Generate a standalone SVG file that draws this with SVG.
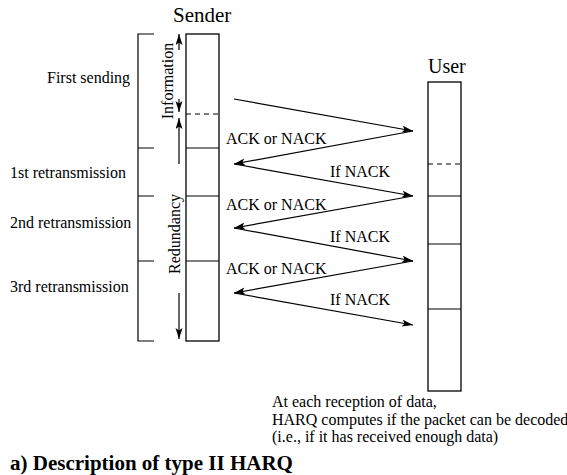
<svg xmlns="http://www.w3.org/2000/svg" width="567" height="475" viewBox="0 0 567 475">
<defs>
<style>
text{font-family:"Liberation Serif","Times New Roman",serif;fill:#000}
.lbl{font-size:16px}
.hd{font-size:21px}
.ttl{font-size:21px;font-weight:bold}
.box{fill:none;stroke:#000;stroke-width:1.3}
.ln{stroke:#000;stroke-width:1.2;fill:none}
.dash{stroke:#000;stroke-width:1.2;stroke-dasharray:5,4}
.arr{stroke:#000;stroke-width:1.2;fill:none;marker-end:url(#ah)}
</style>
<marker id="ah" markerUnits="userSpaceOnUse" markerWidth="14" markerHeight="10" refX="11" refY="3.5" orient="auto">
<path d="M0,0 L11,3.5 L0,7 L2.5,3.5 z" fill="#000"/>
</marker>
</defs>
<rect width="567" height="475" fill="#fff"/>

<g id="sender">
<text class="hd" x="173" y="22">Sender</text>
<rect class="box" x="186" y="34" width="33" height="307"/>
<line class="dash" x1="186" y1="114" x2="219" y2="114"/>
<line class="ln" x1="186" y1="148" x2="219" y2="148"/>
<line class="ln" x1="186" y1="196" x2="219" y2="196"/>
<line class="ln" x1="186" y1="261" x2="219" y2="261"/>
</g>

<g id="bracket">
<path class="ln" d="M154,34 H138 V341 H154 M138,148 H154 M138,196 H154 M138,261 H154"/>
<text class="lbl" x="47" y="83">First sending</text>
<text class="lbl" x="10" y="178">1st retransmission</text>
<text class="lbl" x="10" y="228">2nd retransmission</text>
<text class="lbl" x="10" y="292">3rd retransmission</text>
</g>

<g id="information">
<line class="arr" x1="179" y1="50" x2="179" y2="34"/>
<line class="arr" x1="179" y1="99" x2="179" y2="112"/>
<text class="lbl" text-anchor="middle" transform="translate(173,81) rotate(-90)">Information</text>
</g>

<g id="redundancy">
<line class="arr" x1="179" y1="164" x2="179" y2="118"/>
<line class="arr" x1="179" y1="293" x2="179" y2="339"/>
<text class="lbl" text-anchor="middle" transform="translate(180,234) rotate(-90)">Redundancy</text>
</g>

<g id="user">
<text class="hd" x="428" y="73" style="font-size:20px">User</text>
<rect class="box" x="428" y="82" width="33" height="309"/>
<line class="dash" x1="428" y1="164" x2="461" y2="164"/>
<line class="ln" x1="428" y1="196" x2="461" y2="196"/>
<line class="ln" x1="428" y1="244" x2="461" y2="244"/>
<line class="ln" x1="428" y1="309" x2="461" y2="309"/>
</g>

<g id="connectors">
<line class="arr" x1="234" y1="99" x2="413" y2="131"/>
<line class="arr" x1="413" y1="131" x2="234" y2="164"/>
<line class="arr" x1="234" y1="164" x2="413" y2="196"/>
<line class="arr" x1="413" y1="196" x2="234" y2="228"/>
<line class="arr" x1="234" y1="228" x2="413" y2="261"/>
<line class="arr" x1="413" y1="261" x2="234" y2="293"/>
<line class="arr" x1="234" y1="293" x2="413" y2="325"/>
<text class="lbl" x="226" y="144">ACK or NACK</text>
<text class="lbl" x="330" y="177">If NACK</text>
<text class="lbl" x="226" y="210">ACK or NACK</text>
<text class="lbl" x="330" y="242">If NACK</text>
<text class="lbl" x="226" y="274">ACK or NACK</text>
<text class="lbl" x="330" y="305">If NACK</text>
</g>

<g id="note">
<text class="lbl" x="272" y="407">At each reception of data,</text>
<text class="lbl" x="272" y="425">HARQ computes if the packet can be decoded</text>
<text class="lbl" x="272" y="442">(i.e., if it has received enough data)</text>
</g>

<text class="ttl" x="10" y="470">a) Description of type II HARQ</text>
</svg>
